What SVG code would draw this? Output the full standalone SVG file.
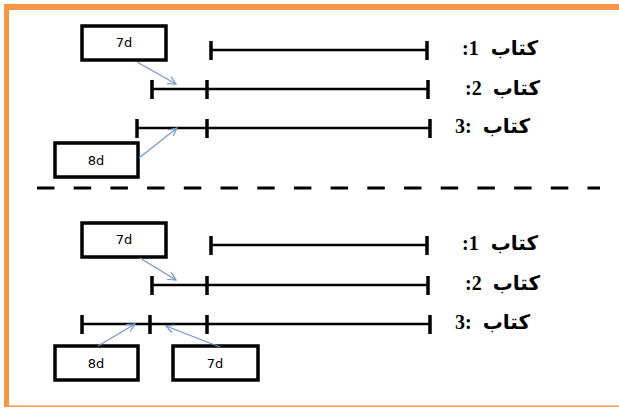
<svg xmlns="http://www.w3.org/2000/svg" width="619" height="408" viewBox="0 0 619 408">
<defs>
<marker id="ah" markerWidth="10" markerHeight="10" refX="9" refY="5" orient="auto" markerUnits="userSpaceOnUse">
<path d="M1,1 L9,5 L1,9" fill="none" stroke="#7396CC" stroke-width="1.2"/>
</marker>
<style>
.bx{fill:#fff;stroke:#000;stroke-width:3.5}
.bt{font-family:"DejaVu Sans",Verdana,sans-serif;font-size:13px;text-anchor:middle;fill:#000}
.ln{stroke:#000;stroke-width:2.5;fill:none}
.tk{stroke:#000;stroke-width:3.5;fill:none}
.ar{stroke:#7396CC;stroke-width:1.2;fill:none;marker-end:url(#ah)}
.lb{font-family:"DejaVu Sans",sans-serif;font-size:20px;font-weight:bold;fill:#000}
.nm{font-family:"Liberation Serif","Times New Roman",serif;font-size:20px;font-weight:bold}
</style>
</defs>
<rect width="619" height="408" fill="#fff"/>
<g id="frame">
<rect x="4" y="4" width="615" height="6" fill="#F79646"/>
<rect x="4" y="4" width="5" height="403" fill="#F79646"/>
<rect x="4" y="405.5" width="615" height="1.5" fill="#F79646"/>
</g>
<g id="top-book1">
<line class="ln" x1="211" y1="50" x2="427" y2="50"/>
<line class="tk" x1="211" y1="41" x2="211" y2="60"/>
<line class="tk" x1="427" y1="41" x2="427" y2="60"/>
<text class="lb" x="462" y="55"><tspan class="nm">:1</tspan><tspan dx="12">كتاب</tspan></text>
</g>
<g id="top-book2">
<line class="ln" x1="152" y1="89" x2="428" y2="89"/>
<line class="tk" x1="152" y1="80" x2="152" y2="99"/>
<line class="tk" x1="207" y1="80" x2="207" y2="99"/>
<line class="tk" x1="428" y1="80" x2="428" y2="99"/>
<text class="lb" x="465" y="95"><tspan class="nm">:2</tspan><tspan dx="11">كتاب</tspan></text>
</g>
<g id="top-book3">
<line class="ln" x1="137" y1="128" x2="430" y2="128"/>
<line class="tk" x1="137" y1="119" x2="137" y2="138"/>
<line class="tk" x1="207" y1="119" x2="207" y2="138"/>
<line class="tk" x1="430" y1="119" x2="430" y2="138"/>
<text class="lb" x="455" y="133"><tspan class="nm">3:</tspan><tspan dx="11">كتاب</tspan></text>
</g>
<g id="top-7d">
<rect class="bx" x="82" y="26" width="84" height="34"/>
<text class="bt" x="124" y="47">7d</text>
</g>
<g id="top-8d">
<rect class="bx" x="55" y="143" width="83" height="34"/>
<text class="bt" x="96" y="165">8d</text>
</g>
<g id="divider">
<line x1="37" y1="188" x2="600" y2="188" stroke="#000" stroke-width="3" stroke-dasharray="17.5 19.2"/>
</g>
<g id="bottom-book1">
<line class="ln" x1="211" y1="245" x2="427" y2="245"/>
<line class="tk" x1="211" y1="236" x2="211" y2="255"/>
<line class="tk" x1="427" y1="236" x2="427" y2="255"/>
<text class="lb" x="462" y="250"><tspan class="nm">:1</tspan><tspan dx="12">كتاب</tspan></text>
</g>
<g id="bottom-book2">
<line class="ln" x1="152" y1="285" x2="428" y2="285"/>
<line class="tk" x1="152" y1="276" x2="152" y2="295"/>
<line class="tk" x1="207" y1="276" x2="207" y2="295"/>
<line class="tk" x1="428" y1="276" x2="428" y2="295"/>
<text class="lb" x="465" y="290"><tspan class="nm">:2</tspan><tspan dx="11">كتاب</tspan></text>
</g>
<g id="bottom-book3">
<line class="ln" x1="82" y1="324" x2="430" y2="324"/>
<line class="tk" x1="82" y1="315" x2="82" y2="334"/>
<line class="tk" x1="150" y1="315" x2="150" y2="334"/>
<line class="tk" x1="207" y1="315" x2="207" y2="334"/>
<line class="tk" x1="430" y1="315" x2="430" y2="334"/>
<text class="lb" x="455" y="329"><tspan class="nm">3:</tspan><tspan dx="11">كتاب</tspan></text>
</g>
<g id="bottom-7d-a">
<rect class="bx" x="82" y="223" width="84" height="34"/>
<text class="bt" x="124" y="244">7d</text>
</g>
<g id="bottom-8d">
<rect class="bx" x="55" y="346" width="83" height="34"/>
<text class="bt" x="96" y="368">8d</text>
</g>
<g id="bottom-7d-b">
<rect class="bx" x="173" y="346" width="85" height="34"/>
<text class="bt" x="215" y="368">7d</text>
</g>
<g id="connectors">
<line class="ar" x1="137" y1="62" x2="176" y2="84"/>
<line class="ar" x1="139" y1="158" x2="177" y2="128"/>
<line class="ar" x1="140" y1="258" x2="176" y2="280"/>
<line class="ar" x1="98" y1="346" x2="135" y2="324"/>
<line class="ar" x1="220" y1="347" x2="166" y2="326"/>
</g>
</svg>
